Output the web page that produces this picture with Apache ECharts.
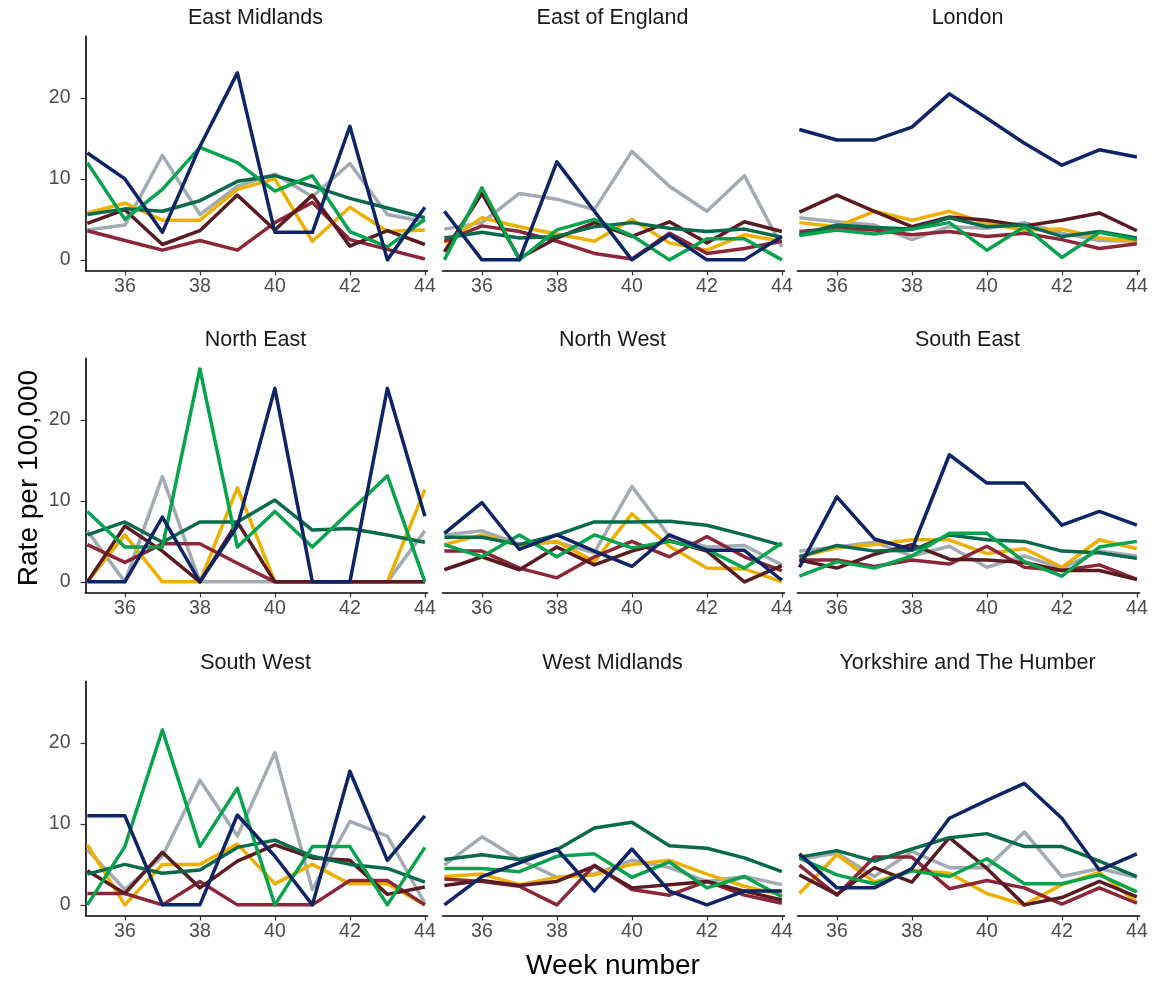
<!DOCTYPE html>
<html>
<head>
<meta charset="utf-8">
<script src="https://cdn.jsdelivr.net/npm/echarts@6/dist/echarts.min.js"></script>
<style>
html,body{margin:0;padding:0;background:#fff;}
#chart{width:1157px;height:981px;}
</style>
</head>
<body>
<div id="chart"></div>
<script>
// ---- data ----
const weeks = [35, 36, 37, 38, 39, 40, 41, 42, 43, 44];
const xTickLabels = [36, 38, 40, 42, 44];
const yTickLabels = [0, 10, 20];
const regions = ['East Midlands', 'East of England', 'London', 'North East', 'North West', 'South East', 'South West', 'West Midlands', 'Yorkshire and The Humber'];
const groupNames = ['Group 1', 'Group 2', 'Group 3', 'Group 4', 'Group 5', 'Group 6', 'Group 7'];
// order of rows in each region array: navy, gray, green, teal, yellow, maroon, crimson
const groupColors = ['#0d2466', '#a2aab2', '#07a34d', '#0a6b4c', '#eeb000', '#5a1a22', '#8c2638'];
const drawOrder = [1, 4, 6, 5, 3, 2, 0];

const eastMidlands = [
  [13.2, 10.0, 3.4, 14.0, 23.1, 3.4, 3.4, 16.5, 0, 6.5],
  [3.7, 4.3, 12.9, 5.6, 9.1, 10.6, 7.8, 11.9, 5.6, 4.7],
  [12.0, 5.0, 8.7, 13.9, 12.0, 8.5, 10.4, 3.5, 1.6, 5.0],
  [5.6, 6.3, 6.0, 7.3, 9.7, 10.4, 9.1, 7.6, 6.4, 5.2],
  [5.8, 7.0, 4.9, 4.9, 8.7, 10.0, 2.3, 6.5, 3.5, 3.7],
  [4.5, 6.2, 1.9, 3.6, 8.0, 3.7, 8.0, 1.7, 3.6, 1.9],
  [3.6, 2.4, 1.2, 2.4, 1.2, 4.6, 7.1, 2.5, 1.3, 0.1]
];
const eastOfEngland = [
  [6.0, 0, 0, 12.1, 6.0, 0, 3.1, 0, 0, 2.9],
  [3.8, 4.6, 8.2, 7.5, 6.2, 13.4, 9.1, 6.0, 10.4, 1.6],
  [0, 8.9, 0, 3.7, 5.0, 3.0, 0, 2.6, 2.6, 0],
  [2.7, 3.4, 2.7, 2.9, 4.1, 4.6, 3.9, 3.5, 3.8, 2.8],
  [2.1, 5.2, 4.1, 3.2, 2.3, 5.0, 2.1, 1.2, 3.1, 2.3],
  [1.0, 8.2, 0.2, 2.7, 4.6, 2.9, 4.7, 2.1, 4.7, 3.5],
  [2.3, 4.2, 3.5, 2.3, 0.8, 0.1, 3.3, 0.8, 1.4, 2.3]
];
const london = [
  [16.1, 14.8, 14.8, 16.4, 20.5, 17.5, 14.4, 11.7, 13.6, 12.7],
  [5.2, 4.7, 4.3, 2.5, 4.1, 3.9, 4.6, 3.3, 2.4, 2.3],
  [3.0, 3.7, 3.2, 3.8, 4.6, 1.2, 4.1, 0.3, 3.4, 2.5],
  [3.1, 4.3, 4.0, 3.8, 5.2, 4.1, 4.3, 2.9, 3.5, 2.7],
  [4.6, 4.1, 6.0, 4.9, 6.0, 4.5, 3.7, 3.8, 2.7, 2.3],
  [5.9, 8.0, 6.0, 4.1, 5.3, 4.9, 4.2, 4.9, 5.8, 3.6],
  [3.5, 3.9, 3.7, 3.1, 3.5, 2.9, 3.3, 2.5, 1.4, 2.0]
];
const northEast = [
  [0, 0, 8.0, 0, 6.9, 23.9, 0, 0, 23.9, 8.1],
  [6.3, 0, 13.0, 0, 0, 0, 0, 0, 0, 6.3],
  [8.7, 4.3, 4.3, 26.3, 4.3, 8.7, 4.3, 8.7, 13.1, 0],
  [5.8, 7.4, 4.9, 7.4, 7.4, 10.1, 6.4, 6.6, 5.8, 4.9],
  [0, 5.8, 0, 0, 11.6, 0, 0, 0, 0, 11.4],
  [0, 6.9, 3.8, 0, 7.4, 0, 0, 0, 0, 0],
  [4.6, 2.4, 4.7, 4.7, 2.3, 0, 0, 0, 0, 0]
];
const northWest = [
  [6.0, 9.8, 4.0, 5.8, 3.8, 1.9, 5.8, 3.9, 3.9, 0.2],
  [5.8, 6.3, 4.7, 4.9, 3.6, 11.8, 5.6, 4.3, 4.5, 2.1],
  [4.6, 3.1, 5.8, 3.1, 5.8, 4.2, 5.0, 4.0, 1.7, 4.8],
  [5.5, 5.5, 4.6, 5.8, 7.4, 7.4, 7.5, 7.0, 5.8, 4.5],
  [4.6, 5.8, 4.5, 5.0, 2.5, 8.4, 4.4, 1.7, 1.6, 0],
  [1.5, 3.1, 1.5, 4.3, 2.1, 3.8, 5.1, 3.8, 0, 2.0],
  [3.8, 3.8, 1.7, 0.5, 3.1, 5.0, 3.1, 5.6, 3.1, 1.4]
];
const southEast = [
  [1.8, 10.5, 5.3, 4.0, 15.7, 12.2, 12.2, 7.0, 8.7, 7.0],
  [3.8, 4.3, 4.9, 3.2, 4.4, 1.8, 3.2, 1.7, 3.8, 3.2],
  [0.7, 2.5, 1.7, 3.2, 6.0, 6.0, 2.5, 0.7, 4.3, 5.0],
  [3.1, 4.5, 3.8, 3.9, 5.8, 5.2, 5.0, 3.8, 3.6, 2.9],
  [3.1, 4.2, 4.6, 5.2, 5.2, 3.5, 4.1, 1.8, 5.2, 4.1],
  [2.7, 1.7, 3.4, 4.6, 2.8, 2.7, 2.4, 1.4, 1.4, 0.3],
  [2.7, 2.7, 1.9, 2.7, 2.2, 4.4, 1.8, 1.4, 2.1, 0.3]
];
const southWest = [
  [11.0, 11.0, 0, 0, 11.1, 6.0, 0, 16.5, 5.5, 11.0],
  [6.8, 1.9, 6.0, 15.4, 8.5, 18.8, 1.9, 10.3, 8.5, 0.2],
  [0, 7.2, 21.6, 7.2, 14.4, 0, 7.2, 7.2, 0, 7.1],
  [3.8, 5.0, 3.9, 4.3, 7.1, 8.0, 6.0, 5.0, 4.5, 2.8],
  [7.4, 0, 5.0, 5.0, 7.5, 2.6, 5.0, 2.6, 2.6, 0],
  [4.2, 1.4, 6.5, 2.1, 5.4, 7.4, 5.8, 5.5, 1.3, 2.2],
  [1.4, 1.4, 0, 2.9, 0, 0, 0, 3.0, 3.0, 0]
];
const westMidlands = [
  [0, 3.5, 5.2, 6.9, 1.7, 6.9, 1.7, 0, 1.7, 1.7],
  [4.9, 8.4, 5.6, 3.4, 3.8, 5.5, 4.6, 2.9, 3.5, 2.5],
  [4.5, 4.5, 4.1, 6.0, 6.3, 3.4, 5.3, 2.1, 3.5, 1.0],
  [5.6, 6.2, 5.6, 6.8, 9.5, 10.2, 7.3, 7.0, 5.8, 4.1],
  [3.5, 3.8, 2.5, 3.4, 3.7, 5.0, 5.5, 3.8, 2.3, 1.2],
  [2.4, 3.0, 2.4, 2.9, 4.8, 2.1, 2.5, 2.9, 1.7, 0.6],
  [3.2, 2.9, 2.3, 0, 4.9, 1.9, 1.2, 2.9, 1.2, 0.2]
];
const yorkshire = [
  [6.3, 2.1, 2.1, 4.5, 10.7, 12.9, 15.0, 10.7, 4.3, 6.3],
  [5.6, 6.4, 3.5, 6.6, 4.6, 4.6, 9.0, 3.5, 4.5, 3.4],
  [5.8, 3.7, 2.6, 4.2, 3.5, 5.7, 2.6, 2.6, 3.7, 1.6],
  [5.9, 6.7, 5.4, 6.9, 8.3, 8.8, 7.2, 7.2, 5.4, 3.5],
  [1.4, 6.2, 2.8, 4.3, 3.9, 1.4, 0, 2.5, 4.0, 0.3],
  [3.7, 1.3, 4.6, 2.8, 8.3, 4.5, 0, 0.9, 2.9, 1.0],
  [4.9, 1.2, 5.9, 5.9, 2.0, 3.0, 2.1, 0.1, 2.1, 0.2]
];
const regionData = [eastMidlands, eastOfEngland, london, northEast, northWest, southEast, southWest, westMidlands, yorkshire];

// ---- layout ----
const colLeft = [85.5, 442.5, 797.5];
const panelW = 342;
const rowTop = [36.4, 358.4, 681.4];
const panelH = 234;
const FONT = '"Liberation Sans", Arial, sans-serif';

const grids = [], xAxes = [], yAxes = [], series = [], graphics = [];
regions.forEach((name, i) => {
  const r = Math.floor(i / 3), c = i % 3;
  const showY = c === 0;
  grids.push({left: colLeft[c], top: rowTop[r], width: panelW, height: panelH, containLabel: false});
  xAxes.push({
    type: 'value', gridIndex: i, min: 34.95, max: 44.07,
    axisLine: {show: true, onZero: false, lineStyle: {color: '#000', width: 1.6}},
    axisTick: {show: true, length: 5, customValues: xTickLabels, lineStyle: {color: '#333', width: 1.2}},
    axisLabel: {show: true, customValues: xTickLabels, color: '#4d4d4d', fontSize: 19.5, fontFamily: FONT, margin: 6},
    splitLine: {show: false}
  });
  yAxes.push({
    type: 'value', gridIndex: i, min: -1.3, max: 27.6, show: showY,
    axisLine: {show: showY, onZero: false, lineStyle: {color: '#000', width: 1.6}},
    axisTick: {show: showY, length: 5, customValues: yTickLabels, lineStyle: {color: '#333', width: 1.2}},
    axisLabel: {show: showY, customValues: yTickLabels, color: '#4d4d4d', fontSize: 19.5, fontFamily: FONT, margin: 15},
    splitLine: {show: false}
  });
  drawOrder.forEach(g => {
    series.push({
      type: 'line', name: groupNames[g], xAxisIndex: i, yAxisIndex: i,
      data: weeks.map((w, j) => [w, regionData[i][g][j]]),
      showSymbol: false, symbol: 'none', silent: true,
      lineStyle: {color: groupColors[g], width: 3.5, join: 'round', cap: 'butt'},
      itemStyle: {color: groupColors[g]}
    });
  });
  graphics.push({
    type: 'text',
    x: colLeft[c] + panelW / 2 - 1, y: rowTop[r] - 18,
    style: {text: name, fill: '#1a1a1a', font: '21.5px ' + FONT, textAlign: 'center', textVerticalAlign: 'middle'}
  });
});
graphics.push({
  type: 'text', x: 613, y: 966,
  style: {text: 'Week number', fill: '#000', font: '28px ' + FONT, textAlign: 'center', textVerticalAlign: 'middle'}
});
graphics.push({
  type: 'text', x: 29, y: 478, rotation: Math.PI / 2,
  style: {text: 'Rate per 100,000', fill: '#000', font: '28px ' + FONT, textAlign: 'center', textVerticalAlign: 'middle'}
});

const chart = echarts.init(document.getElementById('chart'), null, {renderer: 'canvas'});
chart.setOption({
  animation: false,
  backgroundColor: '#ffffff',
  grid: grids, xAxis: xAxes, yAxis: yAxes, series: series,
  graphic: graphics
});
</script>
</body>
</html>
